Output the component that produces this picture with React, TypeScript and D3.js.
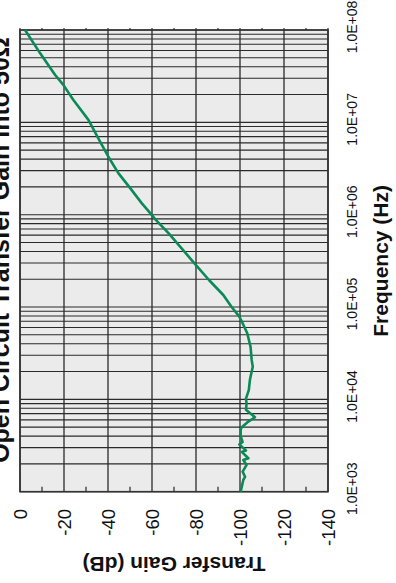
import React from 'react';
import * as d3 from 'd3';

const titleText = 'Open Circuit Transfer Gain into 50Ω';
const xTitle = 'Frequency (Hz)';
const yTitle = 'Transfer Gain (dB)';

const freqTicks = [1e3, 1e4, 1e5, 1e6, 1e7, 1e8];
const freqTickLabels = ['1.0E+03', '1.0E+04', '1.0E+05', '1.0E+06', '1.0E+07', '1.0E+08'];
const gainTicks = [0, -20, -40, -60, -80, -100, -120, -140];
const gainTickLabels = ['0', '-20', '-40', '-60', '-80', '-100', '-120', '-140'];
const gainMinorTicks = [-10, -30, -50, -70, -90, -110, -130];

const freqHz = [
  1000, 1340, 1450, 1650, 1950, 2200, 2300, 2700, 2800, 3250, 3450, 4000, 4700, 5000,
  5750, 6400, 7100, 7700, 9000, 10200, 12600, 16200, 17600, 22600, 26700, 37000, 52000,
  66700, 78700, 100000, 135000, 195000, 309000, 631000, 891000, 1038000, 1334000,
  1950000, 2820000, 4270000, 6170000, 10640000, 17540000, 25470000, 32740000, 56230000,
  100000000,
];
const gainDb = [
  -100.3, -101.5, -102.3, -101.2, -103, -101.5, -103.8, -100.8, -102.7, -99.7, -101.2,
  -100.3, -100.3, -100.8, -103.8, -106.8, -104.5, -102.7, -103, -102.7, -104, -104.5,
  -104.8, -105.8, -105.3, -104.8, -103.3, -101.2, -99.7, -96.2, -92.4, -86, -78.7,
  -67.5, -61.5, -59.2, -55.3, -50, -44.7, -40.1, -36.4, -31.1, -24.2, -19.7, -15.9,
  -9.1, -2.3,
];

const FONT = '"Liberation Sans", Arial, Helvetica, sans-serif';

export default function App() {
  const W = 583;
  const x = d3.scaleLog().domain([1e3, 1e8]).range([91.3, 553]);
  const y = d3.scaleLinear().domain([0, -140]).range([20, 328]);

  const minorFreq: number[] = [];
  for (let d = 3; d < 8; d++) {
    for (let m = 2; m <= 9; m++) minorFreq.push(m * Math.pow(10, d));
  }

  const pts = freqHz.map((f, i) => [f, gainDb[i]] as [number, number]);
  const line = d3
    .line<[number, number]>()
    .x((d) => x(d[0]))
    .y((d) => y(d[1]));

  const [x0, x1] = x.range();
  const [y0, y1] = y.range();

  return (
    <svg
      width={396}
      height={583}
      style={{ position: 'absolute', left: 0, top: 0, background: '#fff' }}
    >
      <g transform={`translate(0,${W}) rotate(-90)`}>
        <rect x={x0} y={y0} width={x1 - x0} height={y1 - y0} fill="#ebebeb" />
        {minorFreq.map((f) => (
          <line key={'mf' + f} x1={x(f)} x2={x(f)} y1={y0} y2={y1} stroke="#2a2a2a" strokeWidth={1.1} />
        ))}
        {freqTicks.map((f) => (
          <line key={'Mf' + f} x1={x(f)} x2={x(f)} y1={y0} y2={y1} stroke="#2a2a2a" strokeWidth={1.1} />
        ))}
        {gainTicks.map((g) => (
          <line key={'g' + g} x1={x0} x2={x1} y1={y(g)} y2={y(g)} stroke="#2a2a2a" strokeWidth={1.3} />
        ))}
        {gainMinorTicks.map((g) => (
          <line key={'mt' + g} x1={x0} x2={x0 + 5} y1={y(g)} y2={y(g)} stroke="#333" strokeWidth={1.3} />
        ))}
        {[...gainTicks, ...gainMinorTicks].map((g) => (
          <line key={'tt' + g} x1={x1} x2={x1 + 2} y1={y(g)} y2={y(g)} stroke="#555" strokeWidth={1.5} />
        ))}
        <rect x={x0} y={y0} width={x1 - x0} height={y1 - y0} fill="none" stroke="#333" strokeWidth={1.6} />
        <path d={line(pts) || ''} fill="none" stroke="#0b8a57" strokeWidth={2.6} strokeLinejoin="round" />

        {gainTicks.map((g, i) => (
          <text
            key={'gl' + g}
            x={74}
            y={y(g)}
            dy="0.36em"
            textAnchor="end"
            fontFamily={FONT}
            fontSize={18.5}
            fill="#111"
          >
            {gainTickLabels[i]}
          </text>
        ))}
        {freqTicks.map((f, i) => (
          <text
            key={'fl' + f}
            x={x(f) + 3}
            y={357}
            textAnchor="middle"
            fontFamily={FONT}
            fontSize={14}
            fill="#111"
          >
            {freqTickLabels[i]}
          </text>
        ))}
        <text
          x={(x0 + x1) / 2}
          y={388}
          textAnchor="middle"
          fontFamily={FONT}
          fontSize={21}
          fontWeight="bold"
          fill="#111"
        >
          {xTitle}
        </text>
        <text
          transform={`translate(26,${(y0 + y1) / 2}) rotate(-90)`}
          textAnchor="middle"
          fontFamily={FONT}
          fontSize={21}
          fontWeight="bold"
          fill="#111"
        >
          {yTitle}
        </text>
        <text
          x={333}
          y={9}
          textAnchor="middle"
          fontFamily={FONT}
          fontSize={25}
          fontWeight="bold"
          fill="#111"
        >
          {titleText}
        </text>
      </g>
    </svg>
  );
}
